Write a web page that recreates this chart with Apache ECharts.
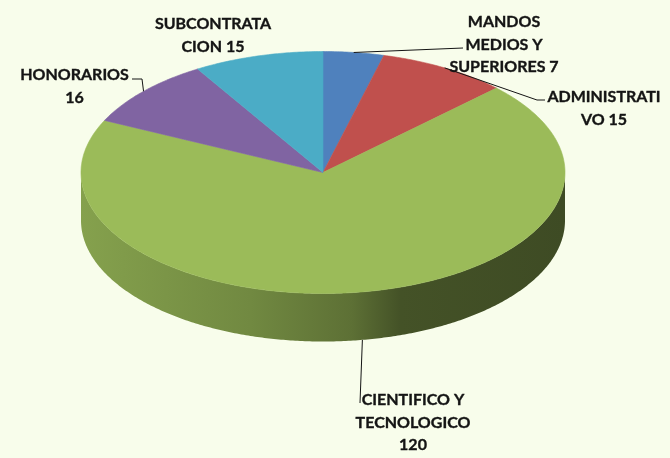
<!DOCTYPE html>
<html>
<head>
<meta charset="utf-8">
<script src="https://cdn.jsdelivr.net/npm/echarts@6/dist/echarts.min.js"></script>
<style>html,body{margin:0;padding:0;background:#f8fdeb;}#c{width:670px;height:458px;}</style>
</head>
<body>
<div id="c"></div>
<script>
// ---- data ----
const categories = ['MANDOS MEDIOS Y SUPERIORES', 'ADMINISTRATIVO', 'CIENTIFICO Y TECNOLOGICO', 'HONORARIOS', 'SUBCONTRATACION'];
const values = [7, 15, 120, 16, 15];
const labelLines = [
  ['MANDOS', 'MEDIOS Y', 'SUPERIORES {v}'],
  ['ADMINISTRATI', 'VO {v}'],
  ['CIENTIFICO Y', 'TECNOLOGICO', '{v}'],
  ['HONORARIOS', '{v}'],
  ['SUBCONTRATA', 'CION {v}']
];
const colors = ['#4f81bd', '#c0504d', '#9bbb59', '#8064a2', '#4bacc6'];

// ---- layout (positions / styles only) ----
const geo = { cx: 323, cy: 172.5, rx: 242, ry: 121, depth: 48 };
const labelLayout = [
  { x: 504, y: 22, leader: [[463, 48]] },
  { x: 604, y: 97, leader: [[537, 100], [545, 100]] },
  { x: 413, y: 400, leader: [[360, 403]], onSide: true },
  { x: 74.5, y: 75, leader: [[142, 79], [132, 79]] },
  { x: 213, y: 24, leader: null }
];
const lineH = 22.5;
const font = 'bold 16px Lato';
const textColor = '#141414';

const total = values.reduce((a, b) => a + b, 0);

function shade(hex, f) {
  const n = parseInt(hex.slice(1), 16);
  const r = Math.round(((n >> 16) & 255) * f), g = Math.round(((n >> 8) & 255) * f), b = Math.round((n & 255) * f);
  return 'rgb(' + r + ',' + g + ',' + b + ')';
}
function pt(t, dy) {
  return [geo.cx + geo.rx * Math.sin(t), geo.cy - geo.ry * Math.cos(t) + (dy || 0)];
}
function arc(t0, t1, dy) {
  const pts = [];
  const n = Math.max(2, Math.ceil(Math.abs(t1 - t0) / 0.01));
  for (let i = 0; i <= n; i++) pts.push(pt(t0 + (t1 - t0) * i / n, dy));
  return pts;
}

function renderItem(params, api) {
  const i = params.dataIndex;
  const v = api.value(0);
  let before = 0;
  for (let k = 0; k < i; k++) before += values[k];
  const t0 = before / total * Math.PI * 2;
  const t1 = (before + v) / total * Math.PI * 2;
  const children = [];
  // side (visible front half: PI/2 .. 3PI/2)
  const a = Math.max(t0, Math.PI / 2), b = Math.min(t1, Math.PI * 3 / 2);
  if (b > a) {
    const top = arc(a, b, 0);
    const bot = arc(b, a, geo.depth);
    const c = colors[i];
    children.push({
      type: 'polygon', z2: 1,
      shape: { points: top.concat(bot) },
      style: {
        fill: new echarts.graphic.LinearGradient(0, 0, 1, 0, [
          { offset: 0, color: shade(c, 0.86) },
          { offset: 0.35, color: shade(c, 0.73) },
          { offset: 0.56, color: shade(c, 0.6) },
          { offset: 0.66, color: shade(c, 0.44) },
          { offset: 1, color: shade(c, 0.40) }
        ]),
        stroke: null
      }
    });
  }
  // top face
  children.push({
    type: 'polygon', z2: 2,
    shape: { points: [[geo.cx, geo.cy]].concat(arc(t0, t1, 0)) },
    style: { fill: colors[i], stroke: colors[i], lineWidth: 0.6 }
  });
  // label
  const L = labelLayout[i];
  const lines = labelLines[i].map(s => s.replace('{v}', v));
  lines.forEach((s, k) => {
    children.push({
      type: 'text', z2: 10,
      style: { text: s, x: L.x, y: L.y + k * lineH, align: 'center', verticalAlign: 'middle', font: font, fill: textColor, stroke: textColor, lineWidth: 0.35 }
    });
  });
  if (L.leader) {
    const tm = (t0 + t1) / 2;
    const start = pt(tm, L.onSide ? geo.depth : 0);
    children.push({
      type: 'polyline', z2: 10,
      shape: { points: [start].concat(L.leader) },
      style: { stroke: textColor, lineWidth: 1, fill: null }
    });
  }
  return { type: 'group', children: children };
}

const chart = echarts.init(document.getElementById('c'), null, { renderer: 'canvas' });
chart.setOption({
  backgroundColor: '#f8fdeb',
  animation: false,
  series: [{
    type: 'custom',
    coordinateSystem: 'none',
    silent: true,
    renderItem: renderItem,
    data: values.map((v, i) => ({ name: categories[i], value: [v] }))
  }]
});
</script>
</body>
</html>
